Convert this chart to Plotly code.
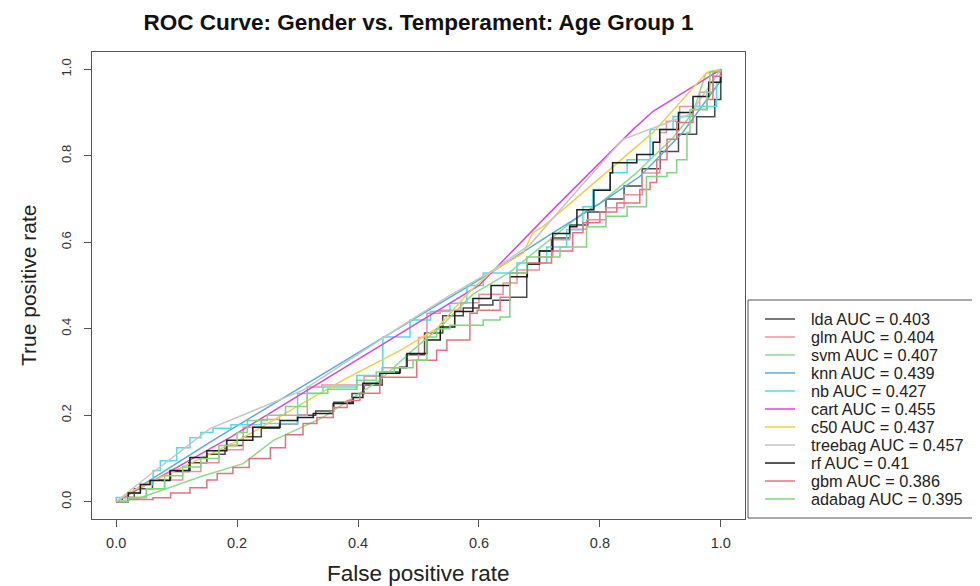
import plotly.graph_objects as go

# ---------------- data ----------------
models = ["lda", "glm", "svm", "knn", "nb", "cart", "c50", "treebag", "rf", "gbm", "adabag"]
auc_labels = ["0.403", "0.404", "0.407", "0.439", "0.427", "0.455", "0.437", "0.457", "0.41", "0.386", "0.395"]

lda_fpr = [0, 0.01, 0.03, 0.06, 0.09, 0.12, 0.15, 0.18, 0.21, 0.24, 0.27, 0.30, 0.33, 0.36, 0.39, 0.41, 0.44, 0.47, 0.48, 0.51, 0.54, 0.574, 0.60, 0.623, 0.651, 0.679, 0.679, 0.70, 0.72, 0.75, 0.78, 0.81, 0.84, 0.87, 0.90, 0.93, 0.96, 0.99, 1.0, 1.0]
lda_tpr = [0, 0.01, 0.03, 0.05, 0.07, 0.09, 0.11, 0.13, 0.15, 0.17, 0.18, 0.20, 0.21, 0.23, 0.25, 0.27, 0.30, 0.31, 0.34, 0.39, 0.43, 0.448, 0.455, 0.466, 0.473, 0.49, 0.55, 0.58, 0.61, 0.64, 0.67, 0.70, 0.73, 0.77, 0.81, 0.85, 0.89, 0.93, 0.97, 1.0]

rf_fpr = [0, 0.02, 0.04, 0.056, 0.089, 0.122, 0.15, 0.183, 0.226, 0.271, 0.30, 0.326, 0.359, 0.392, 0.408, 0.436, 0.469, 0.481, 0.514, 0.536, 0.56, 0.59, 0.62, 0.651, 0.68, 0.70, 0.722, 0.75, 0.762, 0.79, 0.817, 0.821, 0.861, 0.888, 0.899, 0.93, 0.954, 0.98, 1.0]
rf_tpr = [0, 0.02, 0.04, 0.049, 0.072, 0.102, 0.118, 0.142, 0.172, 0.188, 0.195, 0.204, 0.227, 0.241, 0.274, 0.297, 0.311, 0.343, 0.374, 0.404, 0.44, 0.47, 0.50, 0.52, 0.55, 0.58, 0.62, 0.636, 0.675, 0.72, 0.761, 0.784, 0.803, 0.831, 0.861, 0.90, 0.937, 0.97, 1.0]

glm_fpr = [0, 0.02, 0.05, 0.08, 0.11, 0.14, 0.17, 0.21, 0.24, 0.27, 0.316, 0.34, 0.38, 0.41, 0.44, 0.481, 0.50, 0.514, 0.536, 0.57, 0.60, 0.64, 0.663, 0.70, 0.722, 0.75, 0.778, 0.81, 0.84, 0.87, 0.899, 0.91, 0.932, 0.965, 0.987, 1.0]
glm_tpr = [0, 0.01, 0.03, 0.05, 0.07, 0.09, 0.12, 0.172, 0.19, 0.20, 0.265, 0.27, 0.27, 0.29, 0.31, 0.327, 0.38, 0.436, 0.443, 0.46, 0.48, 0.506, 0.536, 0.566, 0.606, 0.63, 0.652, 0.68, 0.71, 0.76, 0.854, 0.88, 0.914, 0.947, 0.993, 1.0]

svm_fpr = [0, 0.04, 0.144, 0.21, 0.26, 0.342, 0.436, 0.49, 0.536, 0.59, 0.65, 0.72, 0.772, 0.80, 0.828, 0.86, 0.883, 0.92, 0.954, 0.975, 1.0]
svm_tpr = [0, 0.009, 0.06, 0.088, 0.142, 0.195, 0.281, 0.35, 0.404, 0.48, 0.53, 0.61, 0.668, 0.69, 0.722, 0.76, 0.791, 0.84, 0.90, 0.99, 1.0]

knn_fpr = [0, 0.16, 0.536, 0.62, 0.717, 0.80, 0.866, 0.937, 0.998, 1.0]
knn_tpr = [0, 0.142, 0.459, 0.53, 0.617, 0.69, 0.752, 0.854, 0.97, 1.0]

nb_fpr = [0, 0.0, 0.02, 0.04, 0.061, 0.073, 0.10, 0.122, 0.14, 0.16, 0.19, 0.24, 0.293, 0.30, 0.342, 0.398, 0.441, 0.441, 0.486, 0.486, 0.52, 0.552, 0.58, 0.607, 0.663, 0.712, 0.745, 0.772, 0.788, 0.817, 0.845, 0.883, 0.921, 0.954, 0.993, 1.0]
nb_tpr = [0, 0.01, 0.02, 0.04, 0.072, 0.095, 0.125, 0.148, 0.16, 0.17, 0.178, 0.181, 0.181, 0.25, 0.265, 0.292, 0.311, 0.381, 0.385, 0.42, 0.44, 0.459, 0.50, 0.529, 0.552, 0.589, 0.629, 0.682, 0.722, 0.761, 0.791, 0.861, 0.891, 0.914, 0.97, 1.0]

cart_fpr = [0, 0.19, 0.60, 0.717, 0.855, 0.888, 1.0]
cart_tpr = [0, 0.15, 0.50, 0.668, 0.861, 0.903, 1.0]

c50_fpr = [0, 0.028, 0.20, 0.375, 0.47, 0.53, 0.58, 0.618, 0.673, 0.689, 0.706, 0.888, 0.977, 1.0]
c50_tpr = [0, 0.026, 0.14, 0.281, 0.35, 0.40, 0.48, 0.529, 0.575, 0.622, 0.636, 0.854, 0.993, 1.0]

treebag_fpr = [0, 0.04, 0.155, 0.309, 0.469, 0.547, 0.618, 0.684, 0.75, 0.838, 0.949, 1.0]
treebag_tpr = [0, 0.045, 0.169, 0.258, 0.404, 0.473, 0.531, 0.594, 0.70, 0.838, 0.896, 1.0]

gbm_fpr = [0, 0.02, 0.061, 0.09, 0.122, 0.15, 0.167, 0.193, 0.22, 0.255, 0.28, 0.309, 0.332, 0.359, 0.382, 0.403, 0.436, 0.469, 0.497, 0.530, 0.547, 0.585, 0.585, 0.597, 0.635, 0.651, 0.679, 0.72, 0.755, 0.772, 0.80, 0.828, 0.866, 0.883, 0.894, 0.911, 0.927, 0.954, 0.977, 0.987, 1.0]
gbm_tpr = [0, 0.005, 0.009, 0.02, 0.032, 0.05, 0.065, 0.079, 0.10, 0.125, 0.155, 0.181, 0.195, 0.218, 0.234, 0.251, 0.288, 0.288, 0.327, 0.350, 0.374, 0.378, 0.436, 0.443, 0.473, 0.529, 0.552, 0.58, 0.622, 0.645, 0.67, 0.691, 0.722, 0.738, 0.791, 0.838, 0.877, 0.907, 0.930, 0.984, 1.0]

adabag_fpr = [0, 0.02, 0.05, 0.08, 0.11, 0.14, 0.17, 0.20, 0.217, 0.25, 0.28, 0.316, 0.35, 0.398, 0.43, 0.46, 0.491, 0.514, 0.53, 0.552, 0.585, 0.607, 0.635, 0.651, 0.651, 0.679, 0.734, 0.778, 0.81, 0.845, 0.877, 0.911, 0.927, 0.944, 0.949, 0.977, 0.982, 1.0]
adabag_tpr = [0, 0.01, 0.03, 0.06, 0.08, 0.10, 0.13, 0.16, 0.188, 0.20, 0.22, 0.251, 0.26, 0.281, 0.30, 0.31, 0.327, 0.381, 0.40, 0.408, 0.408, 0.42, 0.427, 0.466, 0.529, 0.566, 0.589, 0.636, 0.66, 0.682, 0.752, 0.761, 0.791, 0.854, 0.907, 0.947, 0.995, 1.0]

x_ticks = [0.0, 0.2, 0.4, 0.6, 0.8, 1.0]
y_ticks = [0.0, 0.2, 0.4, 0.6, 0.8, 1.0]

# ---------------- styling ----------------
series = {
    "lda": (lda_fpr, lda_tpr, "#4a4a4a", "hv"),
    "glm": (glm_fpr, glm_tpr, "#F0909C", "hv"),
    "svm": (svm_fpr, svm_tpr, "#8EDC8A", "linear"),
    "knn": (knn_fpr, knn_tpr, "#5AAAE6", "linear"),
    "nb": (nb_fpr, nb_tpr, "#52DCE4", "hv"),
    "cart": (cart_fpr, cart_tpr, "#D94AD9", "linear"),
    "c50": (c50_fpr, c50_tpr, "#F2CF45", "linear"),
    "treebag": (treebag_fpr, treebag_tpr, "#C6C6C6", "linear"),
    "rf": (rf_fpr, rf_tpr, "#1e1e1e", "hv"),
    "gbm": (gbm_fpr, gbm_tpr, "#E8707F", "hv"),
    "adabag": (adabag_fpr, adabag_tpr, "#7ED67E", "hv"),
}

# The page body has an 8px margin, so positions measured on the screenshot are shifted by 8px.
OFF = 8
W, H = 980, 586
L, R, T, B = 92 - OFF, 745 - OFF, 52 - OFF, 519 - OFF
pw, ph = R - L, B - T

def px_x(p):
    return (p - OFF - L) / pw

def px_y(p):
    return (B - (p - OFF)) / ph

font_family = "Liberation Sans, Arial, sans-serif"

fig = go.Figure()
for name, auc in zip(models, auc_labels):
    fx, ty, col, shape = series[name]
    fig.add_trace(go.Scatter(
        x=fx, y=ty, mode="lines", name=f"{name} AUC = {auc}",
        line=dict(color=col, width=1.5, shape=shape), showlegend=False,
    ))

axis_common = dict(
    range=[-0.04, 1.04], showgrid=False, zeroline=False, automargin=False,
    showline=True, linecolor="#555555", linewidth=1, mirror=True,
    ticks="outside", ticklen=7, tickcolor="#555555", tickwidth=1,
    tickformat=".1f",
)

# legend (box, line samples, labels) drawn in paper space
shapes = [dict(type="rect", xref="paper", yref="paper",
               x0=px_x(748), x1=px_x(975), y0=px_y(518), y1=px_y(300),
               line=dict(color="#555555", width=1), fillcolor="rgba(0,0,0,0)")]
annotations = []
row0, dy = 319, 18.0
for i, (name, auc) in enumerate(zip(models, auc_labels)):
    yy = px_y(row0 + i * dy)
    col = series[name][2]
    shapes.append(dict(type="line", xref="paper", yref="paper",
                       x0=px_x(765), x1=px_x(795), y0=yy, y1=yy,
                       line=dict(color=col, width=1.5)))
    annotations.append(dict(xref="paper", yref="paper", x=px_x(809), y=yy,
                            xanchor="left", yanchor="middle", showarrow=False,
                            text=f"{name} AUC = {auc}",
                            font=dict(family=font_family, size=16.3, color="#222222")))

# axis titles
annotations.append(dict(xref="paper", yref="paper", x=px_x(419), y=px_y(573),
                        xanchor="center", yanchor="middle", showarrow=False,
                        text="False positive rate",
                        font=dict(family=font_family, size=22.5, color="#222222")))
annotations.append(dict(xref="paper", yref="paper", x=px_x(28), y=px_y(286),
                        xanchor="center", yanchor="middle", showarrow=False, textangle=-90,
                        text="True positive rate",
                        font=dict(family=font_family, size=21, color="#222222")))

fig.update_layout(
    width=W, height=H,
    margin=dict(l=L, r=W - R, t=T, b=H - B, autoexpand=False),
    paper_bgcolor="white", plot_bgcolor="white",
    font=dict(family=font_family, color="#222222"),
    title=dict(text="<b>ROC Curve: Gender vs. Temperament: Age Group 1</b>",
               x=((L + R) / 2) / W, xanchor="center", y=1 - (22 - OFF) / H, yanchor="middle",
               font=dict(family=font_family, size=22.5, color="#111111")),
    xaxis=dict(axis_common, tickvals=x_ticks, ticklabelstandoff=4,
               tickfont=dict(family=font_family, size=14.5, color="#333333")),
    yaxis=dict(axis_common, tickvals=y_ticks, tickangle=-90, ticklabelstandoff=8,
               tickfont=dict(family=font_family, size=13, color="#333333")),
    shapes=shapes,
    annotations=annotations,
    showlegend=False,
)

fig.write_html("out.html")
